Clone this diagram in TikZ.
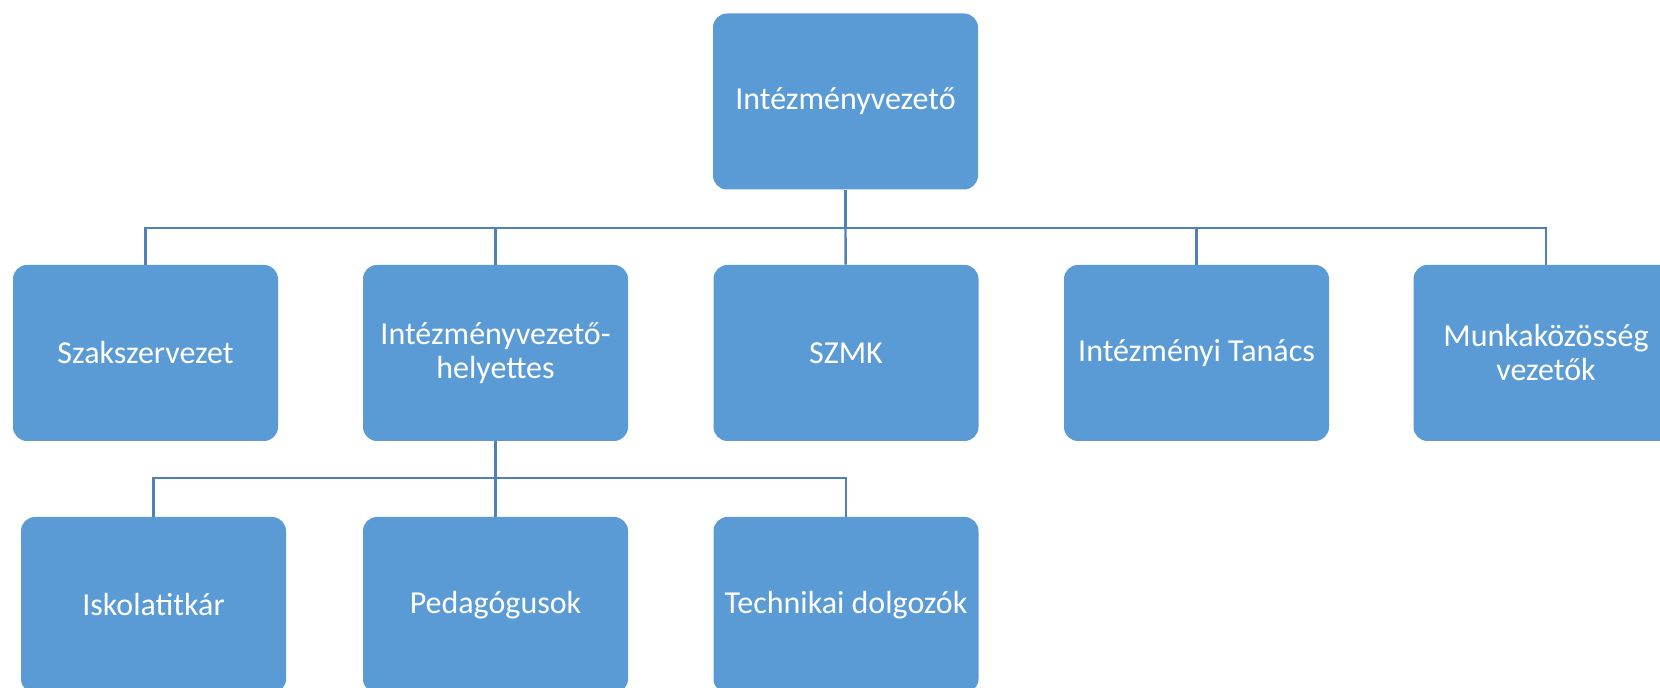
\documentclass[tikz,border=0pt]{standalone}
\usepackage{fontspec}
\setmainfont{Carlito}
\definecolor{boxblue}{HTML}{5B9BD5}
\definecolor{linkblue}{HTML}{4F80B8}
\tikzset{
  unit/.style={fill=boxblue, rounded corners=7pt, minimum width=132.5pt, minimum height=88pt,
    text=white, align=center, font=\fontsize{16}{17}\selectfont},
  link/.style={draw=linkblue, line width=1.2pt}
}

\begin{document}
\begin{tikzpicture}[x=0.5pt,y=0.5pt]
\useasboundingbox (0,0) rectangle (1660,688);
\clip (0,0) rectangle (1660,688);
\path (845.5,586.5) node[unit](Vezeto){Intézményvezető}
  (145.5,335) node[unit](Szakszervezet){Szakszervezet}
  (495.5,335) node[unit](Helyettes){Intézményvezető-\\helyettes}
  (846,335) node[unit](SZMK){SZMK}
  (1196.5,335) node[unit](Tanacs){Intézményi Tanács}
  (1546,335) node[unit](Munkakozosseg){Munkaközösség\\vezetők}
  (153.5,83) node[unit](Iskolatitkar){Iskolatitkár}
  (495.5,83) node[unit](Pedagogusok){Pedagógusok}
  (846,83) node[unit](Technikai){Technikai dolgozók};

\coordinate (Bar) at (845.5,460);
\coordinate (SubBar) at (495.5,210);

\draw[link] (Vezeto) -- (Bar);
\draw[link] (Bar) -| (Szakszervezet);
\draw[link] (Bar) -| (Helyettes);
\draw[link] (Bar) -- (SZMK);
\draw[link] (Bar) -| (Tanacs);
\draw[link] (Bar) -| (Munkakozosseg);
\draw[link] (Helyettes) -- (SubBar);
\draw[link] (SubBar) -| (Iskolatitkar);
\draw[link] (SubBar) -- (Pedagogusok);
\draw[link] (SubBar) -| (Technikai);
\end{tikzpicture}
\end{document}
